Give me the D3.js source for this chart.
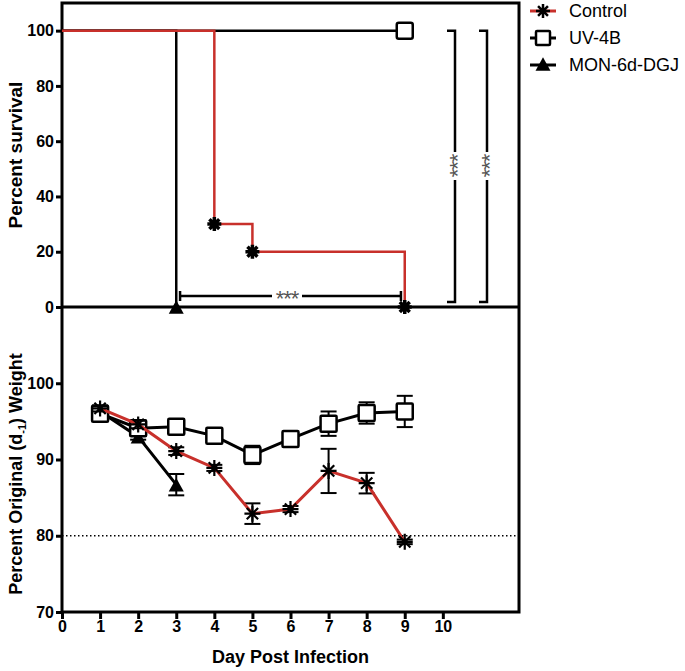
<!DOCTYPE html>
<html><head><meta charset="utf-8">
<script src="https://cdn.jsdelivr.net/npm/d3@7"></script>
<style>body{margin:0;background:#fff}svg{display:block}</style>
</head><body>
<svg id="c" width="685" height="671"></svg>
<script>
// ---- data ----
const days = [0,1,2,3,4,5,6,7,8,9,10];
const survTicks = [0,20,40,60,80,100];
const weightTicks = [70,80,90,100];
const seriesNames = ["Control","UV-4B","MON-6d-DGJ"];

const survControl = [[0,100],[4,30],[5,20],[9,0]];
const survControlMarks = [[4,30],[5,20],[9,0]];
const survUV = [[0,100],[9,100]];
const survUVMarks = [[9,100]];
const survMON = [[0,100],[3,0]];
const survMONMarks = [[3,0]];

const wControlDay = [1,2,3,4,5,6,7,8,9];
const wControl = [96.7,94.6,91.1,88.9,82.9,83.5,88.5,86.9,79.2];
const wControlErr = [0.4,0.5,0.5,0.4,1.35,0.4,2.9,1.35,0.3];
const wUVDay = [1,2,3,4,5,6,7,8,9];
const wUV = [96.0,94.1,94.3,93.1,90.6,92.7,94.7,96.1,96.3];
const wUVErr = [0.5,0.6,0.4,0.5,1.2,0.4,1.6,1.4,2.05];
const wMONDay = [1,2,3];
const wMON = [96.3,93.0,86.7];
const wMONErr = [0.3,0.4,1.4];
const threshold = 80;

// ---- layout ----
const svg = d3.select("#c");
const L = 62, R = 519, T1 = 3, B1 = 307, B2 = 612;
const x = d3.scaleLinear().domain([0,12]).range([L,R]);
const yS = d3.scaleLinear().domain([0,110]).range([B1,T1]);
const yW = d3.scaleLinear().domain([70,110]).range([B2,B1]);
const RED = "#c8302b";
const font = "'Liberation Sans', Arial, Helvetica, sans-serif";

// frame
svg.append("rect").attr("x",L).attr("y",T1).attr("width",R-L).attr("height",B2-T1)
  .attr("fill","none").attr("stroke","#000").attr("stroke-width",3);

function styleAxis(g){
  g.selectAll("path").attr("stroke-width",3);
  g.selectAll("line").attr("stroke-width",3);
  g.selectAll("text").attr("font-family",font).attr("font-weight","bold").attr("font-size",16).attr("fill","#000");
}
// survival y axis
svg.append("g").attr("transform",`translate(${L},0)`)
  .call(d3.axisLeft(yS).tickValues(survTicks).tickSize(6).tickPadding(2).tickSizeOuter(0))
  .call(styleAxis).call(g=>g.select("path").remove());
// weight y axis
svg.append("g").attr("transform",`translate(${L},0)`)
  .call(d3.axisLeft(yW).tickValues(weightTicks).tickSize(6).tickPadding(2).tickSizeOuter(0))
  .call(styleAxis).call(g=>g.select("path").remove());
// x axis
svg.append("g").attr("transform",`translate(0,${B2})`)
  .call(d3.axisBottom(x).tickValues(days).tickSize(7).tickPadding(2).tickSizeOuter(0))
  .call(styleAxis).call(g=>g.select("path").remove());
// middle separator
svg.append("line").attr("x1",L).attr("x2",R).attr("y1",B1).attr("y2",B1).attr("stroke","#000").attr("stroke-width",3);

// axis titles
svg.append("text").attr("transform",`translate(22,${(T1+B1)/2}) rotate(-90)`).attr("text-anchor","middle")
  .attr("font-family",font).attr("font-weight","bold").attr("font-size",19).text("Percent survival");
const wt = svg.append("text").attr("transform",`translate(22,474) rotate(-90)`).attr("text-anchor","middle")
  .attr("font-family",font).attr("font-weight","bold").attr("font-size",18);
wt.append("tspan").text("Percent Original (d");
wt.append("tspan").attr("font-size",11).attr("dy",4).text("-1");
wt.append("tspan").attr("dy",-4).text(") Weight");
svg.append("text").attr("x",(L+R)/2).attr("y",663).attr("text-anchor","middle")
  .attr("font-family",font).attr("font-weight","bold").attr("font-size",18).text("Day Post Infection");

// markers
function asterisk(g, cx, cy, r, sw){
  const p = [];
  for(let i=0;i<4;i++){const a=i*Math.PI/4; p.push(`M${cx-r*Math.cos(a)},${cy-r*Math.sin(a)}L${cx+r*Math.cos(a)},${cy+r*Math.sin(a)}`);}
  g.append("path").attr("d",p.join("")).attr("stroke","#000").attr("stroke-width",sw).attr("fill","none");
}
function square(g,cx,cy,s,rx){
  g.append("rect").attr("x",cx-s/2).attr("y",cy-s/2).attr("width",s).attr("height",s).attr("rx",rx)
   .attr("fill","#fff").attr("stroke","#000").attr("stroke-width",2.5);
}
function tri(g,cx,cy,s){
  const h=s*0.9;
  g.append("path").attr("d",`M${cx},${cy-h/2}L${cx+s/2},${cy+h/2}L${cx-s/2},${cy+h/2}Z`).attr("fill","#000");
}

// ---- survival panel ----
const step = d3.line().x(d=>x(d[0])).y(d=>yS(d[1])).curve(d3.curveStepAfter);
const sp = svg.append("g");
sp.append("path").attr("d",step(survUV)).attr("fill","none").attr("stroke","#000").attr("stroke-width",2.5);
sp.append("path").attr("d",step(survMON)).attr("fill","none").attr("stroke","#000").attr("stroke-width",2.5);
sp.append("path").attr("d",step(survControl)).attr("fill","none").attr("stroke",RED).attr("stroke-width",2.5);
survUVMarks.forEach(d=>square(sp,x(d[0]),yS(d[1]),16,2));
survMONMarks.forEach(d=>tri(sp,x(d[0]),yS(d[1]),15));
survControlMarks.forEach(d=>asterisk(sp,x(d[0]),yS(d[1]),7,3.5));

// significance brackets
const br = svg.append("g").attr("stroke","#000").attr("stroke-width",2.5).attr("fill","none");
const hy = 296, hx1 = x(3.1), hx2 = x(8.9), hmid=287;
br.append("line").attr("x1",hx1).attr("x2",hmid-15).attr("y1",hy).attr("y2",hy);
br.append("line").attr("x1",hmid+15).attr("x2",hx2).attr("y1",hy).attr("y2",hy);
br.append("line").attr("x1",hx1).attr("x2",hx1).attr("y1",hy-5).attr("y2",hy+5);
br.append("line").attr("x1",hx2).attr("x2",hx2).attr("y1",hy-5).attr("y2",hy+5);
svg.append("text").attr("x",hmid).attr("y",hy+10).attr("text-anchor","middle").attr("font-family",font)
  .attr("font-size",22).attr("letter-spacing",-1).attr("fill","#555").text("***");
[455,487].forEach(vx=>{
  const yt = yS(100), yb = 302, ym = 166;
  br.append("path").attr("d",`M${vx-8},${yt}H${vx}V${ym-14}`);
  br.append("path").attr("d",`M${vx},${ym+14}V${yb}H${vx-8}`);
  svg.append("text").attr("transform",`translate(${vx+10},${ym}) rotate(-90)`).attr("text-anchor","middle")
    .attr("font-family",font).attr("font-size",22).attr("letter-spacing",-1).attr("fill","#555").text("***");
});

// ---- weight panel ----
const wp = svg.append("g");
svg.append("line").attr("x1",L).attr("x2",R).attr("y1",yW(threshold)).attr("y2",yW(threshold))
  .attr("stroke","#000").attr("stroke-width",1.5).attr("stroke-dasharray","1.5,2.5");
const line = d3.line().x(d=>x(d[0])).y(d=>yW(d[1]));
function errBars(days, vals, errs){
  days.forEach((d,i)=>{
    const cx=x(d), t=yW(vals[i]+errs[i]), b=yW(vals[i]-errs[i]);
    wp.append("line").attr("x1",cx).attr("x2",cx).attr("y1",t).attr("y2",b).attr("stroke","#000").attr("stroke-width",2);
    [t,b].forEach(yy=>wp.append("line").attr("x1",cx-8).attr("x2",cx+8).attr("y1",yy).attr("y2",yy).attr("stroke","#000").attr("stroke-width",2));
  });
}
const ctl = wControlDay.map((d,i)=>[d,wControl[i]]);
const uv = wUVDay.map((d,i)=>[d,wUV[i]]);
const mon = wMONDay.map((d,i)=>[d,wMON[i]]);
errBars(wMONDay,wMON,wMONErr);
wp.append("path").attr("d",line(mon)).attr("fill","none").attr("stroke","#000").attr("stroke-width",3);
mon.forEach(d=>tri(wp,x(d[0]),yW(d[1]),15));
errBars(wUVDay,wUV,wUVErr);
wp.append("path").attr("d",line(uv)).attr("fill","none").attr("stroke","#000").attr("stroke-width",3);
uv.forEach(d=>square(wp,x(d[0]),yW(d[1]),16,1));
errBars(wControlDay,wControl,wControlErr);
wp.append("path").attr("d",line(ctl)).attr("fill","none").attr("stroke",RED).attr("stroke-width",3);
ctl.forEach(d=>asterisk(wp,x(d[0]),yW(d[1]),8,2.2));

// ---- legend ----
const lg = svg.append("g");
const lx = 543, rows = [11,38,65];
lg.append("line").attr("x1",lx-13).attr("x2",lx+13).attr("y1",rows[0]).attr("y2",rows[0]).attr("stroke",RED).attr("stroke-width",3);
asterisk(lg,lx,rows[0],7,2.5);
lg.append("line").attr("x1",lx-13).attr("x2",lx+13).attr("y1",rows[1]).attr("y2",rows[1]).attr("stroke","#000").attr("stroke-width",3);
square(lg,lx,rows[1],14,1);
lg.append("line").attr("x1",lx-13).attr("x2",lx+13).attr("y1",rows[2]).attr("y2",rows[2]).attr("stroke","#000").attr("stroke-width",3);
tri(lg,lx,rows[2]-1,15);
seriesNames.forEach((n,i)=>lg.append("text").attr("x",569).attr("y",rows[i]+6).attr("font-family",font)
  .attr("font-size",18).attr("fill","#000").text(n));
</script>
</body></html>
